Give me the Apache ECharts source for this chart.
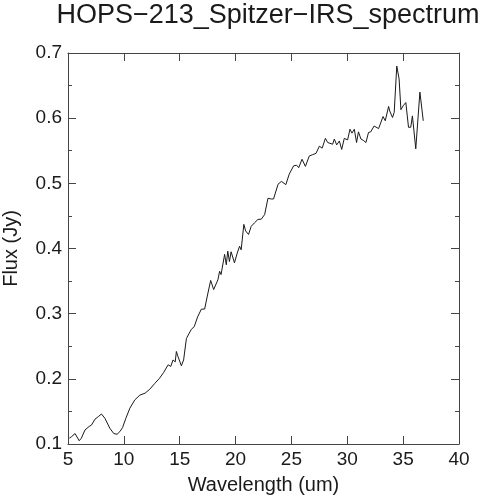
<!DOCTYPE html>
<html>
<head>
<meta charset="utf-8">
<script src="https://cdn.jsdelivr.net/npm/echarts@6/dist/echarts.min.js"></script>
<style>html,body{margin:0;padding:0;background:#fff;}#c{width:479px;height:500px;}</style>
</head>
<body>
<div id="c"></div>
<script>
var titleText = "HOPS\u2212213_Spitzer\u2212IRS_spectrum";
var xName = "Wavelength (um)";
var yName = "Flux (Jy)";
var xTicks = [5, 10, 15, 20, 25, 30, 35, 40];
var yTicks = [0.1, 0.2, 0.3, 0.4, 0.5, 0.6, 0.7];

var wavelength = [5.12,5.3,5.63,5.77,6.0,6.2,6.52,6.67,6.9,7.1,7.41,7.71,8.0,8.3,8.75,9.1,9.4,9.64,9.88,10.18,
10.54,10.98,11.43,11.9,12.32,12.77,13.2,13.57,13.96,14.2,14.4,14.6,14.7,14.85,15.15,15.35,15.6,16.04,16.3,16.6,
16.94,17.23,17.47,17.77,18.04,18.42,18.57,18.7,19.02,19.17,19.3,19.45,19.6,19.9,20.15,20.36,20.5,20.74,20.9,21.16,
21.4,21.7,22.0,22.3,22.6,22.9,23.2,23.4,23.8,24.1,24.5,24.8,25.2,25.47,25.65,25.95,26.25,26.6,26.9,27.2,
27.5,27.75,28.04,28.25,28.69,28.84,29.05,29.29,29.5,29.73,30.03,30.24,30.42,30.63,30.83,31.0,31.22,31.43,31.67,31.9,
32.1,32.4,32.8,33.2,33.4,33.7,33.8,34.05,34.2,34.43,34.64,34.8,35.0,35.24,35.48,35.68,35.83,36.13,36.5,36.8];
var flux = [0.109,0.111,0.116,0.117,0.105,0.109,0.1215,0.119,0.127,0.129,0.138,0.142,0.146,0.1395,0.124,0.116,0.115,0.119,0.125,0.1395,
0.155,0.1677,0.175,0.178,0.184,0.193,0.201,0.21,0.2215,0.219,0.229,0.226,0.242,0.234,0.22,0.229,0.262,0.276,0.28,0.295,
0.307,0.307,0.327,0.351,0.337,0.352,0.365,0.36,0.391,0.375,0.396,0.38,0.395,0.378,0.393,0.4035,0.398,0.437,0.427,0.4215,
0.434,0.4395,0.4446,0.445,0.452,0.477,0.476,0.476,0.4985,0.503,0.498,0.514,0.527,0.5277,0.524,0.537,0.526,0.542,0.544,0.546,
0.557,0.554,0.569,0.5626,0.56,0.568,0.559,0.565,0.552,0.569,0.5667,0.583,0.577,0.583,0.5626,0.579,0.568,0.566,0.5626,0.578,
0.579,0.588,0.584,0.6025,0.596,0.618,0.611,0.601,0.609,0.68,0.66,0.613,0.619,0.624,0.586,0.586,0.6035,0.553,0.64,0.596];

var points = wavelength.map(function (w, i) { return [w, flux[i]]; });
var font = "Liberation Sans";
var axisColor = "#444";
var textColor = "#1a1a1a";

function xAxisBase(pos, showLabel) {
  return {
    type: 'value', position: pos, min: xTicks[0], max: xTicks[xTicks.length - 1], interval: xTicks[1] - xTicks[0],
    axisLine: { show: true, onZero: false, lineStyle: { color: axisColor, width: 1 } },
    axisTick: { show: true, inside: true, length: 8, lineStyle: { color: axisColor } },
    splitLine: { show: false },
    axisLabel: { show: showLabel, color: textColor, fontFamily: font, fontSize: 19, margin: 6 }
  };
}
function yAxisBase(pos, showLabel) {
  return {
    type: 'value', position: pos, min: yTicks[0], max: yTicks[yTicks.length - 1], interval: 0.1,
    axisLine: { show: true, onZero: false, lineStyle: { color: axisColor, width: 1 } },
    axisTick: { show: true, inside: true, length: 8, lineStyle: { color: axisColor } },
    minorTick: { show: true, splitNumber: 2, length: 4, lineStyle: { color: axisColor } },
    splitLine: { show: false },
    axisLabel: { show: showLabel, color: textColor, fontFamily: font, fontSize: 19, margin: 6,
      formatter: function (v) { return v.toFixed(1); } }
  };
}

var xb = xAxisBase('bottom', true);
xb.name = xName; xb.nameLocation = 'middle'; xb.nameGap = 31;
xb.nameTextStyle = { color: textColor, fontFamily: font, fontSize: 20 };
var xt = xAxisBase('top', false);
var yl = yAxisBase('left', true);
yl.name = yName; yl.nameLocation = 'middle'; yl.nameGap = 47;
yl.nameTextStyle = { color: textColor, fontFamily: font, fontSize: 20 };
var yr = yAxisBase('right', false);

var chart = echarts.init(document.getElementById('c'), null, { renderer: 'canvas' });
chart.setOption({
  backgroundColor: '#ffffff',
  animation: false,
  title: { text: titleText, left: 263, top: -3, textAlign: 'center',
    textStyle: { color: textColor, fontFamily: font, fontSize: 27, fontWeight: 'normal' } },
  grid: { left: 68, right: 20, top: 53, bottom: 56, containLabel: false, outerBoundsMode: 'none' },
  xAxis: [xb, xt],
  yAxis: [yl, yr],
  series: [{
    type: 'line', data: points, xAxisIndex: 0, yAxisIndex: 0,
    showSymbol: false, symbol: 'none',
    lineStyle: { color: '#1a1a1a', width: 1 }
  }]
});
</script>
</body>
</html>
